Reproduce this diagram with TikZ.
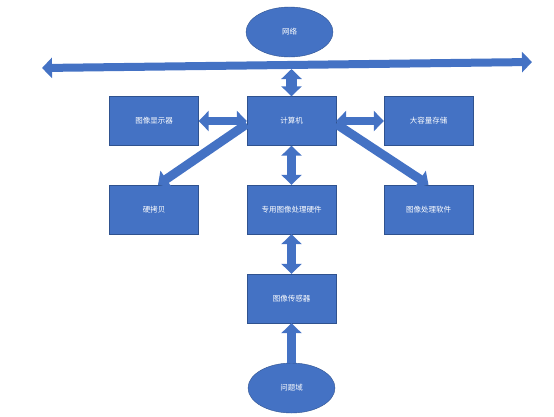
\documentclass[tikz,border=0pt]{standalone}
\usepackage{fontspec}
\setmainfont{Noto Sans CJK SC}
\usetikzlibrary{arrows.meta,shapes.geometric}
\definecolor{offblue}{HTML}{4472C4}
\definecolor{offline}{HTML}{2F528F}

\begin{document}
\begin{tikzpicture}[x=1pt,y=-1pt,
    box/.style={rectangle, fill=offblue, draw=offline, line width=0.4pt, minimum width=89pt, minimum height=49pt, text=white, font=\fontsize{7.5pt}{9pt}\selectfont},
    oval/.style={ellipse, fill=offblue, draw=offline, line width=0.4pt, minimum width=87pt, minimum height=50pt, inner sep=0pt, text=white, font=\fontsize{7.5pt}{9pt}\selectfont},
    blk/.style={offblue, line width=9pt},
    dbl/.style={blk, {Triangle[width=20pt,length=10pt]}-{Triangle[width=20pt,length=10pt]}},
    sgl/.style={blk, -{Triangle[width=20pt,length=10pt]}}]

\useasboundingbox (0,0) rectangle (554,416);

\node[oval] (net) at (289.5,32) {网络};
\coordinate (busL) at (42,68);
\coordinate (busR) at (532,62);
\coordinate (tap) at (291.5,69);

\node[box] (display) at (154,121) {图像显示器};
\node[box] (computer) at (291.5,121) {计算机};
\node[box] (storage) at (428.5,121) {大容量存储};
\node[box] (hardcopy) at (154,209.5) {硬拷贝};
\node[box] (hardware) at (291.5,209.5) {专用图像处理硬件};
\node[box] (software) at (428.5,209.5) {图像处理软件};
\node[box] (sensor) at (291.5,298.5) {图像传感器};
\node[oval] (problem) at (291.5,388) {问题域};

\draw[dbl, line width=8pt] (busL) -- (busR);
\draw[dbl, line width=11pt] (tap) -- (computer.north);
\draw[dbl, line width=8pt] (computer.west) -- (display.east);
\draw[dbl, line width=8pt] (computer.east) -- (storage.west);
\draw[sgl] ([yshift=-3pt]computer.west) -- ([xshift=4pt]hardcopy.north);
\draw[sgl] ([yshift=-3pt]computer.east) -- (software.north);
\draw[dbl] (computer.south) -- (hardware.north);
\draw[dbl] (hardware.south) -- (sensor.north);
\draw[sgl] (problem.north) -- (sensor.south);

\end{tikzpicture}
\end{document}
